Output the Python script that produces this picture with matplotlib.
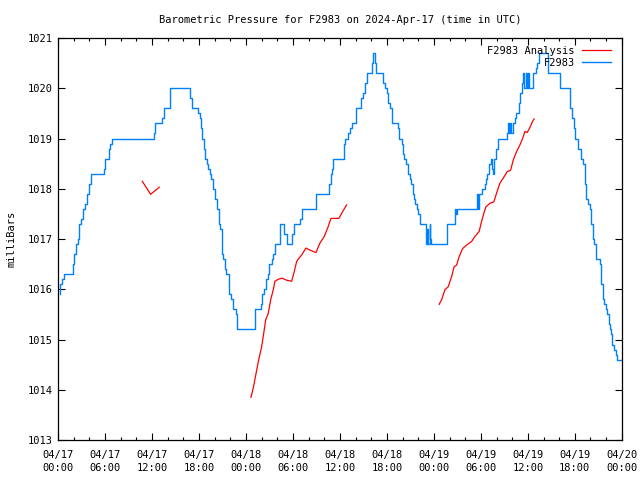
import matplotlib
matplotlib.use("Agg")
import matplotlib.pyplot as plt
import numpy as np

# hours since 04/17 00:00 UTC
obs_hours = [0.2, 0.3, 0.5, 0.8, 1.9, 2.1, 2.3, 2.5, 2.7, 3.0, 3.2, 3.5, 3.7, 4.0, 4.2,
             5.9, 6.0, 6.5, 6.7, 6.9, 12.2, 12.4, 13.3, 13.5, 14.3, 16.9, 17.1, 17.9,
             18.1, 18.3, 18.4, 18.6, 18.8, 19.0, 19.2, 19.4, 19.6, 19.8, 20.1, 20.3,
             20.5, 20.7, 20.9, 21.1, 21.3, 21.5, 21.8, 22.1, 22.3, 22.7, 22.9, 25.2,
             25.9, 26.1, 26.3, 26.6, 26.8, 27.0, 27.3, 27.5, 27.7, 28.4, 28.9, 29.2,
             29.9, 30.2, 30.9, 31.1, 33.0, 34.6, 34.8, 35.0, 35.1, 36.5, 36.7, 37.0,
             37.3, 37.5, 38.1, 38.7, 38.9, 39.2, 39.5, 40.1, 40.2, 40.5, 40.6, 41.5,
             41.8, 42.0, 42.2, 42.4, 42.6, 43.4, 43.6, 43.9, 44.1, 44.2, 44.5, 44.7,
             44.9, 45.1, 45.3, 45.5, 45.6, 45.8, 46.0, 46.2, 47.0, 47.05, 47.15, 47.3,
             47.45, 47.55, 47.65, 49.7, 50.7, 50.85, 51.0, 53.45, 53.55, 53.65, 53.8,
             54.2, 54.5, 54.65, 54.8, 55.05, 55.25, 55.45, 55.55, 55.7, 55.9, 56.2,
             57.3, 57.45, 57.6, 57.75, 57.9, 58.05, 58.35, 58.55, 58.9, 59.05, 59.2,
             59.35, 59.5, 59.7, 59.85, 60.05, 60.2, 60.7, 61.0, 61.2, 61.4, 62.6,
             64.15, 65.35, 65.6, 65.85, 66.05, 66.45, 66.75, 67.0, 67.25, 67.4, 67.7,
             67.9, 68.1, 68.35, 68.5, 68.75, 69.2, 69.35, 69.55, 69.7, 69.95, 70.15,
             70.3, 70.45, 70.65, 70.8, 71.05, 71.25, 71.4, 71.95]
obs_mb = [1015.9, 1016.1, 1016.2, 1016.3, 1016.5, 1016.7, 1016.9, 1017.0, 1017.3, 1017.4,
          1017.6, 1017.7, 1017.9, 1018.1, 1018.3, 1018.4, 1018.6, 1018.8, 1018.9, 1019.0,
          1019.1, 1019.3, 1019.4, 1019.6, 1020.0, 1019.8, 1019.6, 1019.5, 1019.4, 1019.2,
          1019.0, 1018.8, 1018.6, 1018.5, 1018.4, 1018.3, 1018.2, 1018.0, 1017.8, 1017.6,
          1017.3, 1017.2, 1016.7, 1016.6, 1016.4, 1016.3, 1015.9, 1015.8, 1015.6, 1015.5,
          1015.2, 1015.6, 1015.7, 1015.9, 1016.0, 1016.2, 1016.3, 1016.5, 1016.6, 1016.7,
          1016.9, 1017.3, 1017.1, 1016.9, 1017.1, 1017.3, 1017.4, 1017.6, 1017.9, 1018.1,
          1018.3, 1018.4, 1018.6, 1018.9, 1019.0, 1019.1, 1019.2, 1019.3, 1019.6, 1019.8,
          1019.9, 1020.1, 1020.3, 1020.5, 1020.7, 1020.5, 1020.3, 1020.1, 1020.0, 1019.9,
          1019.7, 1019.6, 1019.3, 1019.2, 1019.0, 1018.9, 1018.7, 1018.6, 1018.5, 1018.3,
          1018.2, 1018.1, 1017.9, 1017.8, 1017.7, 1017.6, 1017.5, 1017.3, 1017.0, 1016.9,
          1017.2, 1016.9, 1017.3, 1017.0, 1016.9, 1017.3, 1017.6, 1017.5, 1017.6, 1017.8,
          1017.9, 1017.6, 1017.9, 1018.0, 1018.1, 1018.2, 1018.3, 1018.5, 1018.6, 1018.4,
          1018.3, 1018.6, 1018.8, 1019.0, 1019.1, 1019.3, 1019.1, 1019.3, 1019.1, 1019.3,
          1019.4, 1019.5, 1019.7, 1019.9, 1020.1, 1020.3, 1020.0, 1020.3, 1020.0, 1020.3,
          1020.0, 1020.3, 1020.4, 1020.5, 1020.7, 1020.3, 1020.0, 1019.6, 1019.4, 1019.2,
          1019.0, 1018.8, 1018.6, 1018.5, 1018.1, 1017.8, 1017.7, 1017.6, 1017.3, 1017.0,
          1016.9, 1016.6, 1016.5, 1016.1, 1015.8, 1015.7, 1015.6, 1015.5, 1015.3, 1015.2,
          1015.1, 1014.9, 1014.8, 1014.7, 1014.6, 1014.6]

# analysis runs, NaN separates the three pieces
ana_hours = [10.76, 11.83, 12.93, np.nan,
             24.64, 24.93, 25.37, 25.66, 26.0, 26.21, 26.52, 26.85, 27.16, 27.49, 27.7,
             28.12, 28.63, 29.2, 29.84, 30.17, 30.47, 30.68, 31.11, 31.66, 32.17, 32.94,
             33.45, 34.0, 34.51, 34.85, 35.87, 36.22, 36.86, np.nan,
             48.68, 48.98, 49.41, 49.83, 50.26, 50.59, 50.9, 51.23, 51.67, 52.18, 52.81,
             53.24, 53.78, 54.09, 54.38, 54.64, 55.15, 55.66, 56.0, 56.43, 56.85, 57.36,
             57.8, 58.13, 58.56, 58.98, 59.33, 59.63, 59.92, 60.26, 60.6, 60.8]
ana_mb = [1018.15, 1017.89, 1018.03, np.nan,
          1013.85, 1014.03, 1014.39, 1014.62, 1014.85, 1015.06, 1015.39, 1015.52, 1015.79,
          1015.99, 1016.16, 1016.2, 1016.22, 1016.18, 1016.16, 1016.35, 1016.55, 1016.6,
          1016.68, 1016.82, 1016.78, 1016.73, 1016.92, 1017.05, 1017.25, 1017.41, 1017.41,
          1017.51, 1017.68, np.nan,
          1015.7, 1015.79, 1015.99, 1016.05, 1016.25, 1016.45, 1016.48, 1016.65, 1016.81,
          1016.88, 1016.95, 1017.05, 1017.15, 1017.35, 1017.51, 1017.64, 1017.71, 1017.74,
          1017.91, 1018.11, 1018.21, 1018.34, 1018.37, 1018.57, 1018.74, 1018.87, 1019.0,
          1019.14, 1019.12, 1019.22, 1019.34, 1019.39]

tick_hours = list(range(0, 73, 6))
tick_labels = ["04/17\n00:00", "04/17\n06:00", "04/17\n12:00", "04/17\n18:00",
               "04/18\n00:00", "04/18\n06:00", "04/18\n12:00", "04/18\n18:00",
               "04/19\n00:00", "04/19\n06:00", "04/19\n12:00", "04/19\n18:00",
               "04/20\n00:00"]

plt.rcParams['font.family'] = ['DejaVu Sans Mono']

fig = plt.figure(figsize=(6.4, 4.8), dpi=100)
ax = fig.add_axes([0.0906, 0.0833, 0.881, 0.8375])

ax.plot(ana_hours, ana_mb, color='#ff0000', lw=0.9, label='F2983 Analysis')
ax.plot(obs_hours, obs_mb, color='#0080ff', lw=1.0, drawstyle='steps-post', label='F2983')

ax.set_xlim(0, 72)
ax.set_ylim(1013, 1021)
ax.set_xticks(tick_hours)
ax.set_xticklabels(tick_labels)
ax.set_xticks(np.arange(0, 73, 2), minor=True)
ax.set_yticks(np.arange(1013, 1022, 1))
ax.tick_params(which='both', direction='in', top=True, right=True, labelsize=7.5, width=0.8)
ax.tick_params(which='major', length=5)
ax.tick_params(which='minor', length=2.5)
ax.tick_params(axis='x', which='major', pad=7)
ax.tick_params(axis='y', which='major', pad=4)
for lab in ax.get_xticklabels():
    lab.set_linespacing(1.4)
for s in ax.spines.values():
    s.set_linewidth(0.9)

ax.set_title('Barometric Pressure for F2983 on 2024-Apr-17 (time in UTC)', fontsize=7.5, pad=11)
ax.set_ylabel('milliBars', fontsize=7.5, labelpad=8)

leg = ax.legend(loc='upper right', bbox_to_anchor=(0.9805, 0.98), frameon=False,
                fontsize=7.5, markerfirst=False, handlelength=2.8, borderaxespad=0,
                borderpad=0, labelspacing=0.17, handletextpad=0.67)
for t in leg.get_texts():
    t.set_ha('right')

fig.savefig('out.png', dpi=100)
